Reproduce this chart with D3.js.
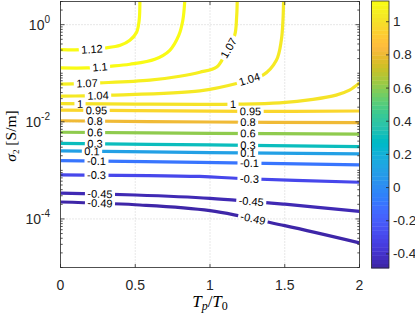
<!DOCTYPE html>
<html><head><meta charset="utf-8">
<script src="https://cdn.jsdelivr.net/npm/d3@7"></script>
<style>html,body{margin:0;padding:0;background:#fff}svg{display:block}</style>
</head><body><svg id="c" width="415" height="315"></svg>
<script>
// ---------- data ----------
const xDomain = [0, 2];
const yDomain = [1e-5, 3];
const cLim = [-0.485, 1.125];
const xTicks = [0, 0.5, 1, 1.5, 2];
const yMajorExp = [0, -2, -4];
const cbTicks = [-0.4, -0.2, 0, 0.2, 0.4, 0.6, 0.8, 1];
const levels = [1.12, 1.1, 1.07, 1.04, 1, 0.95, 0.8, 0.6, 0.3, 0.1, -0.1, -0.3, -0.45, -0.49];
const labelText = ["1.12","1.1","1.07","1.04","1","0.95","0.8","0.6","0.3","0.1","-0.1","-0.3","-0.45","-0.49"];
const labelLeftX = [0.21, 0.264, 0.177, 0.25, 0.13, 0.242, 0.23, 0.23, 0.23, 0.21, 0.242, 0.242, 0.264, 0.264];
const labelMidX = [null, null, 1.125, 1.265, 1.154, 1.27, 1.254, 1.254, 1.254, 1.254, 1.265, 1.265, 1.277, 1.287];
const contourPoints = [
  [[0,0.306],[0.15,0.305],[0.3,0.331],[0.4,0.375],[0.464,0.476],[0.509,0.70],[0.526,1.22],[0.531,3]],
  [[0,0.1285],[0.18,0.1285],[0.331,0.139],[0.464,0.153],[0.631,0.194],[0.731,0.297],[0.791,0.60],[0.818,1.22],[0.831,3]],
  [[0,0.0595],[0.264,0.0633],[0.598,0.0719],[0.798,0.0868],[0.932,0.1049],[1.045,0.1347],[1.104,0.2573],[1.165,0.602],[1.178,1.409],[1.182,3]],
  [[0,0.0338],[0.164,0.0342],[0.344,0.0354],[0.932,0.0434],[1.177,0.0615],[1.265,0.0754],[1.354,0.091],[1.444,0.1848],[1.477,0.4755],[1.488,1.223],[1.492,3]],
  [[0,0.0236],[0.5,0.0231],[0.932,0.0228],[1.185,0.0231],[1.466,0.0246],[1.689,0.0289],[1.844,0.0354],[1.933,0.0448],[2,0.0633]],
  [[0,0.0174],[0.5,0.0170],[1.25,0.0164],[2,0.0167]],
  [[0,0.0105],[1,0.0099],[2,0.0096]],
  [[0,0.0061],[1,0.0058],[2,0.0056]],
  [[0,0.0036],[1,0.00334],[2,0.00308]],
  [[0,0.00251],[1,0.00232],[2,0.00218]],
  [[0,0.00159],[0.932,0.00146],[2,0.0013]],
  [[0,0.00081],[0.93,0.00075],[1.2,0.00068],[2,0.00057]],
  [[0,0.000341],[0.5,0.000311],[1,0.000266],[1.5,0.000201],[2,0.000143]],
  [[0,0.000223],[0.5,0.000196],[1,0.000148],[1.5,0.0000727],[2,0.0000321]]
];

// ---------- style ----------
const parula = [[0.2422,0.1504,0.6603],[0.2504,0.1650,0.7076],[0.2578,0.1818,0.7511],[0.2647,0.1978,0.7952],[0.2706,0.2147,0.8364],[0.2751,0.2342,0.8710],[0.2783,0.2559,0.8991],[0.2803,0.2782,0.9221],[0.2813,0.3006,0.9414],[0.2810,0.3228,0.9579],[0.2795,0.3447,0.9717],[0.2760,0.3667,0.9829],[0.2699,0.3892,0.9906],[0.2602,0.4123,0.9952],[0.2440,0.4358,0.9988],[0.2206,0.4603,0.9973],[0.1963,0.4847,0.9892],[0.1834,0.5074,0.9798],[0.1786,0.5289,0.9682],[0.1764,0.5499,0.9520],[0.1687,0.5703,0.9359],[0.1540,0.5902,0.9218],[0.1460,0.6091,0.9079],[0.1380,0.6276,0.8973],[0.1248,0.6459,0.8883],[0.1113,0.6635,0.8763],[0.0952,0.6798,0.8598],[0.0689,0.6948,0.8394],[0.0297,0.7082,0.8163],[0.0036,0.7203,0.7917],[0.0067,0.7312,0.7660],[0.0433,0.7411,0.7394],[0.0964,0.7500,0.7120],[0.1408,0.7584,0.6842],[0.1717,0.7670,0.6554],[0.1938,0.7758,0.6251],[0.2161,0.7843,0.5923],[0.2470,0.7918,0.5567],[0.2906,0.7973,0.5188],[0.3406,0.8008,0.4789],[0.3909,0.8029,0.4354],[0.4456,0.8024,0.3909],[0.5044,0.7993,0.3480],[0.5616,0.7942,0.3045],[0.6174,0.7876,0.2612],[0.6720,0.7793,0.2227],[0.7242,0.7698,0.1910],[0.7738,0.7598,0.1646],[0.8203,0.7498,0.1535],[0.8634,0.7406,0.1596],[0.9035,0.7330,0.1774],[0.9393,0.7288,0.2100],[0.9728,0.7298,0.2394],[0.9956,0.7434,0.2371],[0.9970,0.7659,0.2199],[0.9952,0.7893,0.2028],[0.9892,0.8136,0.1885],[0.9786,0.8386,0.1766],[0.9676,0.8639,0.1643],[0.9610,0.8890,0.1537],[0.9597,0.9135,0.1423],[0.9628,0.9373,0.1265],[0.9691,0.9606,0.1064],[0.9769,0.9839,0.0805]];
const rgb = c => d3.rgb(c[0]*255, c[1]*255, c[2]*255).toString();
function cmap(v){
  const t = (v - cLim[0]) / (cLim[1] - cLim[0]);
  const i = Math.max(0, Math.min(63, Math.floor(t*64)));
  return rgb(parula[i]);
}

const W = 415, H = 315;
const PL = 60.5, PR = 359.5, PT = 1.5, PB = 267.5;
const axisCol = "#262626";
const sans = "'Liberation Sans', Arial, Helvetica, sans-serif";
const serif = "'Liberation Serif', 'Times New Roman', serif";

const svg = d3.select("#c");
const x = d3.scaleLinear().domain(xDomain).range([PL, PR]);
const y = d3.scaleLog().domain(yDomain).range([PB, PT]);
const cb = d3.scaleLinear().domain(cLim).range([268, 1]);

svg.append("rect").attr("width", W).attr("height", H).attr("fill", "#fff");
const defs = svg.append("defs");
defs.append("clipPath").attr("id", "plotClip").append("rect")
  .attr("x", PL).attr("y", PT).attr("width", PR-PL).attr("height", PB-PT);

// grid
const grid = svg.append("g").attr("stroke", "#c4c4c4").attr("stroke-width", 0.8).attr("stroke-dasharray", "1,2");
xTicks.filter(v => v > xDomain[0] && v < xDomain[1]).forEach(v => {
  grid.append("line").attr("x1", x(v)).attr("x2", x(v)).attr("y1", PT).attr("y2", PB);
});
yMajorExp.forEach(e => {
  grid.append("line").attr("x1", PL).attr("x2", PR).attr("y1", y(Math.pow(10, e))).attr("y2", y(Math.pow(10, e)));
});

// contours
const lineGen = d3.line().x(d => x(d[0])).y(d => y(d[1])).curve(d3.curveCatmullRom.alpha(0.5));
const linesG = svg.append("g").attr("clip-path", "url(#plotClip)");
const labelsG = svg.append("g").attr("font-family", sans).attr("font-size", 11).attr("fill", "#000");

levels.forEach((lev, i) => {
  const path = linesG.append("path").attr("d", lineGen(contourPoints[i]))
    .attr("fill", "none").attr("stroke", cmap(lev)).attr("stroke-width", 3.2);
  const node = path.node();
  const L = node.getTotalLength();
  const samples = d3.range(0, L + 0.01, 0.5).map(l => node.getPointAtLength(l));
  const mask = defs.append("mask").attr("id", "m" + i).attr("maskUnits", "userSpaceOnUse")
    .attr("x", 0).attr("y", 0).attr("width", W).attr("height", H);
  mask.append("rect").attr("width", W).attr("height", H).attr("fill", "#fff");
  [labelLeftX[i], labelMidX[i]].filter(v => v != null).forEach(lx => {
    const px = x(lx);
    const k = d3.minIndex(samples, p => Math.abs(p.x - px));
    const a = samples[Math.max(0, k - 4)], b = samples[Math.min(samples.length - 1, k + 4)];
    let ang = Math.atan2(b.y - a.y, b.x - a.x) * 180 / Math.PI;
    if (ang > 90) ang -= 180;
    if (ang < -90) ang += 180;
    const p = samples[k];
    const tr = `rotate(${ang},${p.x},${p.y})`;
    const t = labelsG.append("text").attr("x", p.x).attr("y", p.y).attr("dy", "0.35em")
      .attr("text-anchor", "middle").attr("transform", tr).text(labelText[i]);
    const w = t.node().getComputedTextLength();
    mask.append("rect").attr("x", p.x - w/2 - 2.5).attr("y", p.y - 4.5)
      .attr("width", w + 5).attr("height", 9).attr("fill", "#000").attr("transform", tr);
  });
  path.attr("mask", "url(#m" + i + ")");
});

// axes frame and ticks
const ax = svg.append("g").attr("stroke", axisCol).attr("stroke-width", 0.8).attr("fill", "none");
ax.append("rect").attr("x", PL).attr("y", PT).attr("width", PR-PL).attr("height", PB-PT);
xTicks.forEach(v => {
  ax.append("line").attr("x1", x(v)).attr("x2", x(v)).attr("y1", PB).attr("y2", PB - 3.5);
  ax.append("line").attr("x1", x(v)).attr("x2", x(v)).attr("y1", PT).attr("y2", PT + 3.5);
});
for (let e = -5; e <= 0; e++) {
  for (let k = 1; k <= 9; k++) {
    const v = k * Math.pow(10, e);
    if (v < yDomain[0] || v > yDomain[1]) continue;
    const len = (k === 1 && yMajorExp.includes(e)) ? 4 : 2.2;
    const yy = y(v);
    ax.append("line").attr("x1", PL).attr("x2", PL + len).attr("y1", yy).attr("y2", yy);
    ax.append("line").attr("x1", PR).attr("x2", PR - len).attr("y1", yy).attr("y2", yy);
  }
}

// tick labels
const tl = svg.append("g").attr("font-family", sans).attr("fill", axisCol);
xTicks.forEach(v => {
  tl.append("text").attr("x", x(v)).attr("y", 290).attr("text-anchor", "middle")
    .attr("font-size", 14).text(String(v));
});
yMajorExp.forEach(e => {
  const t = tl.append("text").attr("x", 50).attr("y", y(Math.pow(10, e)) + 5)
    .attr("text-anchor", "end").attr("font-size", 14);
  t.append("tspan").text("10");
  t.append("tspan").attr("dy", -6.5).attr("font-size", 10).text(String(e));
});

// axis titles
const xl = svg.append("text").attr("x", 210).attr("y", 307).attr("text-anchor", "middle")
  .attr("font-family", serif).attr("font-size", 17).attr("fill", "#000");
xl.append("tspan").attr("font-style", "italic").text("T");
xl.append("tspan").attr("font-style", "italic").attr("font-size", 12).attr("dy", 3).text("p");
xl.append("tspan").attr("dy", -3).text("/");
xl.append("tspan").attr("font-style", "italic").text("T");
xl.append("tspan").attr("font-size", 12).attr("dy", 3).text("0");

const yl = svg.append("text").attr("transform", "translate(16,136) rotate(-90)")
  .attr("text-anchor", "middle").attr("font-family", serif).attr("font-size", 15.5).attr("fill", "#000");
yl.append("tspan").attr("font-style", "italic").text("σ");
yl.append("tspan").attr("font-size", 9).attr("dy", 3).text("2");
yl.append("tspan").attr("dy", -3).text(" [S/m]");

// colorbar
const cbX = 371.5, cbW = 17.5;
const cbG = svg.append("g");
parula.forEach((c, i) => {
  const v0 = cLim[0] + (cLim[1] - cLim[0]) * i / 64;
  const v1 = cLim[0] + (cLim[1] - cLim[0]) * (i + 1) / 64;
  cbG.append("rect").attr("x", cbX).attr("width", cbW)
    .attr("y", cb(v1)).attr("height", cb(v0) - cb(v1) + 0.4).attr("fill", rgb(c));
});
cbG.append("rect").attr("x", cbX).attr("y", 1).attr("width", cbW).attr("height", 267)
  .attr("fill", "none").attr("stroke", axisCol).attr("stroke-width", 0.8);
cbTicks.forEach(v => {
  cbG.append("line").attr("x1", cbX + cbW).attr("x2", cbX + cbW - 3).attr("y1", cb(v)).attr("y2", cb(v))
    .attr("stroke", axisCol).attr("stroke-width", 0.8);
  cbG.append("text").attr("x", 393).attr("y", cb(v) + 4.5).attr("font-family", sans)
    .attr("font-size", 13.5).attr("fill", axisCol).text(String(v));
});
</script>
</body></html>
